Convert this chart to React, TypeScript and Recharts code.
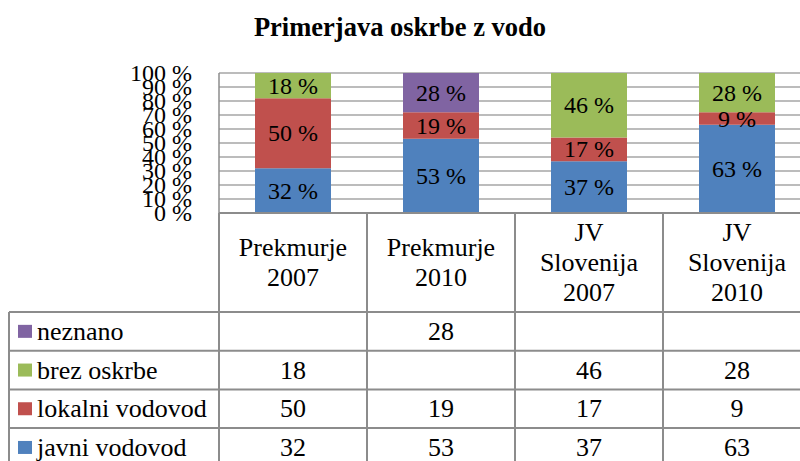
import React from 'react';
import { BarChart, Bar, XAxis, YAxis, CartesianGrid, LabelList } from 'recharts';

const title = 'Primerjava oskrbe z vodo';
const categories = ['Prekmurje 2007', 'Prekmurje 2010', 'JV Slovenija 2007', 'JV Slovenija 2010'];
const categoryLines = [['Prekmurje', '2007'], ['Prekmurje', '2010'], ['JV', 'Slovenija', '2007'], ['JV', 'Slovenija', '2010']];
const javniVodovod = [32, 53, 37, 63];
const lokalniVodovod = [50, 19, 17, 9];
const brezOskrbe = [18, null, 46, 28];
const neznano = [null, 28, null, null];
const yTicks = [0, 10, 20, 30, 40, 50, 60, 70, 80, 90, 100];

const series = [
  { key: 'javni', name: 'javni vodovod', values: javniVodovod, color: '#4F81BD' },
  { key: 'lokalni', name: 'lokalni vodovod', values: lokalniVodovod, color: '#C0504D' },
  { key: 'brez', name: 'brez oskrbe', values: brezOskrbe, color: '#9BBB59' },
  { key: 'neznano', name: 'neznano', values: neznano, color: '#8064A2' },
];
// table rows top-to-bottom
const tableRows = [series[3], series[2], series[1], series[0]];

const data = categories.map((c, i) => {
  const row: any = { cat: c };
  series.forEach((s) => { row[s.key] = s.values[i]; });
  return row;
});

const FONT = '"Liberation Serif", "Times New Roman", serif';
const TXT = { fontFamily: FONT, fontSize: 24 };
const TBL = { fontFamily: FONT, fontSize: 26 };
const GRID = '#a6a6a6';
const BORDER = '#8c8c8c';

const HEADER_H = 99;
const ROW_H = 38.7;
const LEGEND_LEFT = 9;

const TableTick = (props: any) => {
  const { x, y, payload, index, width, visibleTicksCount } = props;
  const n = visibleTicksCount || categories.length;
  const colW = width ? width / n : 148;
  const top = y;
  const left = x - colW / 2;
  const right = x + colW / 2;
  const lines = categoryLines[index] || [String(payload.value)];
  const headerMid = top + HEADER_H / 2;
  const lh = 30;
  const tableTop = top + HEADER_H;
  const bottom = tableTop + ROW_H * tableRows.length;
  const els: any[] = [];
  lines.forEach((ln, k) => {
    els.push(
      <text key={'h' + k} x={x} y={headerMid + (k - (lines.length - 1) / 2) * lh} textAnchor="middle" dominantBaseline="central" style={TBL} fill="#000">{ln}</text>
    );
  });
  els.push(<line key="vl" x1={left} x2={left} y1={top} y2={bottom + 10} stroke={BORDER} strokeWidth={2} />);
  els.push(<line key="vr" x1={right} x2={right} y1={top} y2={bottom + 10} stroke={BORDER} strokeWidth={2} />);
  tableRows.forEach((s, r) => {
    const ry = tableTop + r * ROW_H;
    els.push(<line key={'rl' + r} x1={left} x2={right} y1={ry} y2={ry} stroke={BORDER} strokeWidth={2} />);
    const v = s.values[index];
    if (v !== null && v !== undefined) {
      els.push(<text key={'v' + r} x={x} y={ry + ROW_H / 2} textAnchor="middle" dominantBaseline="central" style={TBL} fill="#000">{v}</text>);
    }
  });
  if (index === 0) {
    els.push(<line key="ll" x1={LEGEND_LEFT} x2={LEGEND_LEFT} y1={tableTop} y2={bottom + 10} stroke={BORDER} strokeWidth={2} />);
    tableRows.forEach((s, r) => {
      const ry = tableTop + r * ROW_H;
      els.push(<line key={'lr' + r} x1={LEGEND_LEFT} x2={left} y1={ry} y2={ry} stroke={BORDER} strokeWidth={2} />);
      els.push(<rect key={'lm' + r} x={LEGEND_LEFT + 9} y={ry + ROW_H / 2 - 6.5} width={14} height={13} fill={s.color} />);
      els.push(<text key={'lt' + r} x={LEGEND_LEFT + 28} y={ry + ROW_H / 2} dominantBaseline="central" style={TBL} fill="#000">{s.name}</text>);
    });
  }
  return <g>{els}</g>;
};

const YTick = (props: any) => {
  const { x, y, payload } = props;
  return (
    <text x={x} y={y} textAnchor="end" dominantBaseline="central" style={TXT} fill="#000">{`${payload.value} %`}</text>
  );
};

const makeLabel = (dataKey: string) => (props: any) => {
  const { x, y, width, height, value } = props;
  if (value === null || value === undefined) return null;
  return (
    <text x={Number(x) + Number(width) / 2} y={Number(y) + Number(height) / 2} textAnchor="middle" dominantBaseline="central" style={TXT} fill="#000">{`${value} %`}</text>
  );
};

export default function App() {
  return (
    <div style={{ position: 'absolute', left: 0, top: 0, width: 812, height: 470 }}>
      <div style={{ position: 'absolute', left: 0, top: 12, width: 800, textAlign: 'center', fontFamily: FONT, fontWeight: 'bold', fontSize: 26.5, lineHeight: '30px', color: '#000' }}>{title}</div>
      <BarChart width={812} height={470} data={data} margin={{ top: 73, right: 1, bottom: 0, left: 0 }}>
        <CartesianGrid vertical={false} stroke={GRID} strokeWidth={1.5} />
        <XAxis dataKey="cat" height={257} interval={0} tickLine={false} tickSize={0} tickMargin={0} axisLine={{ stroke: BORDER, strokeWidth: 2 }} tick={<TableTick />} />
        <YAxis width={219} domain={[0, 100]} ticks={yTicks} interval={0} tickLine={false} tickSize={0} tickMargin={27}
          axisLine={{ stroke: BORDER, strokeWidth: 1.5 }} tick={<YTick />} />
        {series.map((s) => (
          <Bar key={s.key} dataKey={s.key} stackId="a" fill={s.color} barSize={76} isAnimationActive={false}>
            <LabelList dataKey={s.key} content={makeLabel(s.key)} />
          </Bar>
        ))}
      </BarChart>
    </div>
  );
}
